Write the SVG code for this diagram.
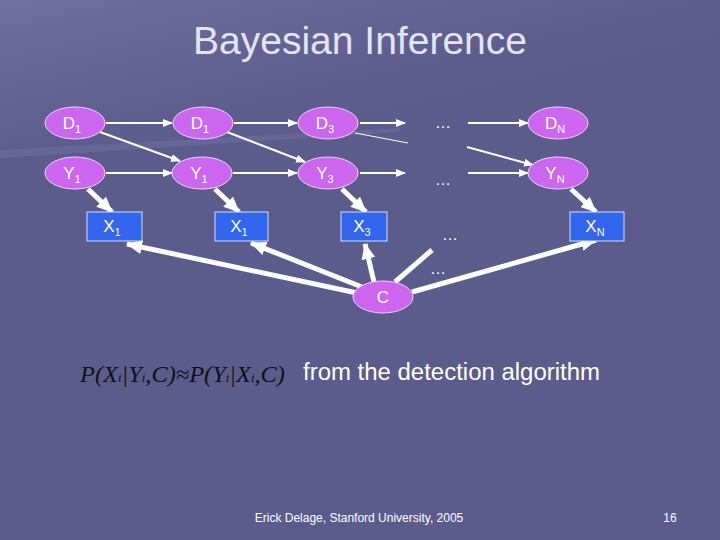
<svg xmlns="http://www.w3.org/2000/svg" width="720" height="540" viewBox="0 0 720 540">
<defs>
<linearGradient id="bg" x1="0" y1="0" x2="1" y2="1">
<stop offset="0" stop-color="#7878a8"/><stop offset="0.5" stop-color="#5e5e8e"/><stop offset="1" stop-color="#58588a"/>
</linearGradient>
<marker id="ah" markerWidth="10" markerHeight="8" refX="9" refY="4" orient="auto" markerUnits="userSpaceOnUse"><path d="M0,0 L10,4 L0,8 Z" fill="#fff"/></marker>
<marker id="ahb" markerWidth="16" markerHeight="14" refX="15" refY="7" orient="auto" markerUnits="userSpaceOnUse"><path d="M0,0 L16,7 L0,14 Z" fill="#fff"/></marker>
</defs>
<style>
.e{fill:#cc66ee;stroke:#f0d0ff;stroke-width:1}
.b{fill:#3366ee;stroke:#d0e0ff;stroke-width:1}
.t{font-family:"Liberation Sans",Arial,sans-serif;fill:#fff;font-size:17px;text-anchor:middle}
.s{font-size:11px}
.thin{stroke:#fff;stroke-width:2;fill:none;marker-end:url(#ah)}
.thick{stroke:#fff;stroke-width:5;fill:none;marker-end:url(#ahb)}
.dots{font-family:"Liberation Sans",Arial,sans-serif;fill:#fff;font-size:16px;text-anchor:middle}
</style>
<rect width="720" height="540" fill="#5b5b8c"/>
<polygon points="0,0 720,0 720,100 0,160" fill="url(#bg)" opacity="0.7"/>
<polygon points="0,150 400,128 400,132 0,158" fill="#6a6a9a" opacity="0.8"/>
<text x="360" y="54" font-family="Liberation Sans,Arial,sans-serif" font-size="38" fill="#e4e4f4" text-anchor="middle" textLength="334" lengthAdjust="spacingAndGlyphs">Bayesian Inference</text>
<g id="connectors">
<line class="thin" x1="106" y1="123" x2="172" y2="123"/>
<line class="thin" x1="234" y1="123" x2="297" y2="123"/>
<line class="thin" x1="360" y1="123" x2="405" y2="123"/>
<line class="thin" x1="468" y1="123" x2="528" y2="123"/>
<line class="thin" x1="106" y1="173" x2="172" y2="173"/>
<line class="thin" x1="233" y1="173" x2="297" y2="173"/>
<line class="thin" x1="360" y1="173" x2="405" y2="173"/>
<line class="thin" x1="468" y1="173" x2="528" y2="173"/>
<line class="thin" x1="100" y1="132" x2="180" y2="161"/>
<line class="thin" x1="227" y1="132" x2="305" y2="162"/>
<line x1="355" y1="133" x2="408" y2="143" stroke="#fff" stroke-width="1"/>
<line class="thin" x1="467" y1="147" x2="533" y2="165"/>
<line class="thick" x1="88" y1="189" x2="112" y2="212"/>
<line class="thick" x1="215" y1="189" x2="239" y2="212"/>
<line class="thick" x1="342" y1="189" x2="366" y2="212"/>
<line class="thick" x1="571" y1="189" x2="596" y2="212"/>
<line class="thick" x1="357" y1="293" x2="127" y2="244"/>
<line class="thick" x1="362" y1="287" x2="251" y2="243"/>
<line class="thick" x1="374" y1="282" x2="365" y2="244"/>
<line x1="395" y1="282" x2="432" y2="250" stroke="#fff" stroke-width="5"/>
<line class="thick" x1="412" y1="292" x2="596" y2="240"/>
</g>
<text class="dots" x="443" y="128">…</text>
<text class="dots" x="443" y="185">…</text>
<text class="dots" x="450" y="240">…</text>
<text class="dots" x="438" y="274">…</text>
<g id="D1a"><ellipse class="e" cx="75" cy="123" rx="30" ry="16"/><text class="t" x="72" y="129">D<tspan class="s" dy="4">1</tspan></text></g>
<g id="D1b"><ellipse class="e" cx="203" cy="123" rx="30" ry="16"/><text class="t" x="200" y="129">D<tspan class="s" dy="4">1</tspan></text></g>
<g id="D3"><ellipse class="e" cx="328" cy="123" rx="30" ry="16"/><text class="t" x="325" y="129">D<tspan class="s" dy="4">3</tspan></text></g>
<g id="DN"><ellipse class="e" cx="558" cy="123" rx="30" ry="16"/><text class="t" x="555" y="129">D<tspan class="s" dy="4">N</tspan></text></g>
<g id="Y1a"><ellipse class="e" cx="75" cy="173" rx="30" ry="16"/><text class="t" x="72" y="179">Y<tspan class="s" dy="4">1</tspan></text></g>
<g id="Y1b"><ellipse class="e" cx="202" cy="173" rx="30" ry="16"/><text class="t" x="199" y="179">Y<tspan class="s" dy="4">1</tspan></text></g>
<g id="Y3"><ellipse class="e" cx="328" cy="173" rx="30" ry="16"/><text class="t" x="325" y="179">Y<tspan class="s" dy="4">3</tspan></text></g>
<g id="YN"><ellipse class="e" cx="558" cy="173" rx="30" ry="16"/><text class="t" x="555" y="179">Y<tspan class="s" dy="4">N</tspan></text></g>
<g id="X1a"><rect class="b" x="87" y="212" width="55" height="29"/><text class="t" x="112" y="232">X<tspan class="s" dy="4">1</tspan></text></g>
<g id="X1b"><rect class="b" x="215" y="212" width="53" height="29"/><text class="t" x="239" y="232">X<tspan class="s" dy="4">1</tspan></text></g>
<g id="X3"><rect class="b" x="341" y="212" width="46" height="29"/><text class="t" x="362" y="232">X<tspan class="s" dy="4">3</tspan></text></g>
<g id="XN"><rect class="b" x="570" y="212" width="54" height="29"/><text class="t" x="595" y="232">X<tspan class="s" dy="4">N</tspan></text></g>
<g id="C"><ellipse class="e" cx="383" cy="297" rx="30" ry="16"/><text class="t" x="383" y="303" font-size="16">C</text></g>
<text x="80" y="382" font-family="Liberation Serif,'Times New Roman',serif" font-style="italic" font-size="23" fill="#111" textLength="205" lengthAdjust="spacingAndGlyphs">P(X<tspan font-size="12">i</tspan>|Y<tspan font-size="12">i</tspan>,C)≈P(Y<tspan font-size="12">i</tspan>|X<tspan font-size="12">i</tspan>,C)</text>
<text x="303" y="380" font-family="Liberation Sans,Arial,sans-serif" font-size="23" fill="#fff" textLength="297" lengthAdjust="spacingAndGlyphs">from the detection algorithm</text>
<text x="359" y="522" font-family="Liberation Sans,Arial,sans-serif" font-size="12" fill="#fff" text-anchor="middle">Erick Delage, Stanford University, 2005</text>
<text x="670" y="522" font-family="Liberation Sans,Arial,sans-serif" font-size="12" fill="#fff" text-anchor="middle">16</text>
</svg>
